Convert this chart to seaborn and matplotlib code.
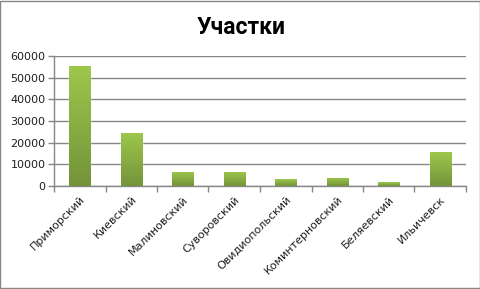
import numpy as np
import pandas as pd
import matplotlib
matplotlib.use("Agg")
import matplotlib.pyplot as plt
import seaborn as sns
from matplotlib.colors import LinearSegmentedColormap
from matplotlib.patches import Rectangle

categories = ["Приморский", "Киевский", "Малиновский", "Суворовский",
              "Овидиопольский", "Коминтерновский", "Беляевский", "Ильичевск"]
values = [55400, 24500, 6500, 6500, 3200, 3700, 1800, 15600]
yticks = [0, 10000, 20000, 30000, 40000, 50000, 60000]
title = "Участки"

df = pd.DataFrame({"cat": categories, "val": values})

sns.set_theme(style="white")
plt.rcParams['font.family'] = ['DejaVu Sans']

fig = plt.figure(figsize=(4.81, 2.89), dpi=100)
ax = fig.add_axes([54/481, 1 - 186/289, 412/481, 130/289])

sns.barplot(data=df, x="cat", y="val", color="#8DB440", width=0.41, ax=ax,
            saturation=1, zorder=3)

cmap = LinearSegmentedColormap.from_list("g", ["#74933A", "#9DC84C"])
grad = np.linspace(0, 1, 256).reshape(-1, 1)
for p in ax.patches:
    x0, y0 = p.get_x(), p.get_y()
    w, h = p.get_width(), p.get_height()
    im = ax.imshow(grad, cmap=cmap, aspect="auto", origin="lower",
                   extent=[x0, x0 + w, y0, y0 + h], zorder=3.5)
    im.set_clip_path(p)

ax.set_xlim(-0.5, len(categories) - 0.5)
ax.set_ylim(0, 60000)
ax.set_yticks(yticks)
ax.set_yticklabels([str(t) for t in yticks], fontsize=8, color="#1F1F1F")
ax.yaxis.grid(True, color="#868686", linewidth=1.0, zorder=0)
ax.set_axisbelow(True)
ax.set_xlabel("")
ax.set_ylabel("")

ax.set_xticks(range(len(categories)))
ax.set_xticklabels(categories, rotation=45, ha="right", rotation_mode="anchor",
                   fontsize=8, color="#1F1F1F")
ax.set_xticks(np.arange(-0.5, len(categories), 1), minor=True)
ax.tick_params(axis="x", which="major", length=0, pad=6)
ax.tick_params(axis="x", which="minor", length=4, width=1, color="#868686", direction="out", bottom=True)
ax.tick_params(axis="y", length=4, width=1, color="#868686", direction="out", left=True, pad=2)

for s in ["top", "right"]:
    ax.spines[s].set_visible(False)
for s in ["left", "bottom"]:
    ax.spines[s].set_color("#868686")
    ax.spines[s].set_linewidth(1.0)

fig.text(0.5 + 1/481, 1 - 27/289, title, ha="center", va="center", fontsize=16.5,
         fontweight="bold", color="black", family=["Roboto", "DejaVu Sans"])

fig.patches.append(Rectangle((0.001, 0.002), 0.997, 0.995, transform=fig.transFigure,
                             fill=False, edgecolor="#868686", linewidth=1.0))

fig.savefig("out.png", dpi=100, facecolor="white")
